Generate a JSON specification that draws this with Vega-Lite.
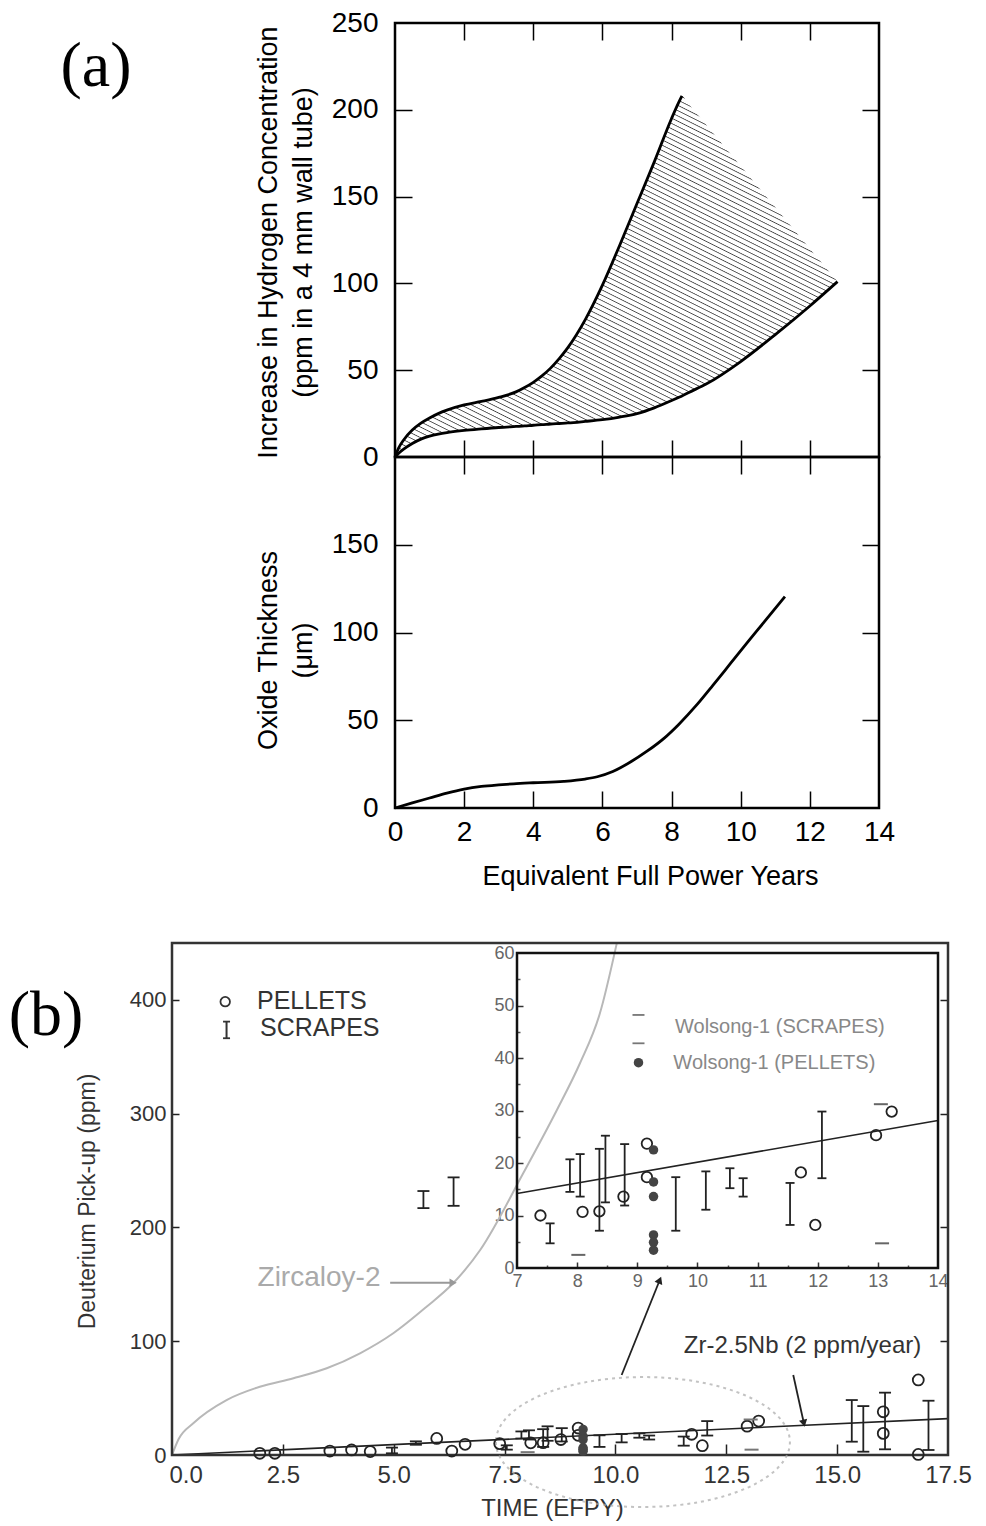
{
"$schema":"https://vega.github.io/schema/vega-lite/v6.json",
"width":986,"height":1526,"autosize":"none","padding":0,"background":"white",
"config":{"view":{"stroke":null},"font":"Liberation Sans","axis":{"grid":false,"domain":false,"labelFlush":false,"labelOverlap":false,"labelFont":"Liberation Sans","titleFont":"Liberation Sans","titleFontWeight":"normal","labelColor":"#000","titleColor":"#000","tickColor":"#000"}},
"datasets":{
"band":[{"x":0,"hi":0,"lo":0},{"x":0.1,"hi":5,"lo":2},{"x":0.25,"hi":9.8,"lo":4.5},{"x":0.5,"hi":15.5,"lo":7.8},{"x":0.75,"hi":19.5,"lo":10.3},{"x":1,"hi":22.5,"lo":12},{"x":1.25,"hi":25,"lo":13.2},{"x":1.5,"hi":27,"lo":14.1},{"x":2,"hi":30,"lo":15.3},{"x":2.5,"hi":32,"lo":16.2},{"x":3,"hi":34.3,"lo":17},{"x":3.5,"hi":37.5,"lo":17.6},{"x":3.75,"hi":40,"lo":17.9},{"x":4,"hi":43,"lo":18.3},{"x":4.25,"hi":46.7,"lo":18.6},{"x":4.5,"hi":51.2,"lo":19},{"x":4.75,"hi":56.7,"lo":19.3},{"x":5,"hi":63,"lo":19.6},{"x":5.5,"hi":79,"lo":20.5},{"x":6,"hi":99,"lo":21.5},{"x":6.5,"hi":122,"lo":23},{"x":7,"hi":146,"lo":25},{"x":7.5,"hi":170,"lo":28.3},{"x":8,"hi":195,"lo":32.5},{"x":8.2,"hi":204,"lo":34.3},{"x":8.3,"hi":208,"lo":35.2},{"x":8.5,"hi":203.2,"lo":37.2},{"x":9,"hi":191.4,"lo":42},{"x":10,"hi":167.6,"lo":55},{"x":11,"hi":143.8,"lo":70.5},{"x":12,"hi":120,"lo":87},{"x":12.8,"hi":101,"lo":101}],
"tA":[{"x":-8.65,"y":224.7,"t":"(a)"}],
"oxide":[{"x":0,"y":0},{"x":0.5,"y":2.9},{"x":1,"y":5.7},{"x":1.5,"y":8.5},{"x":2,"y":10.8},{"x":2.5,"y":12.3},{"x":3,"y":13.2},{"x":3.43,"y":13.8},{"x":4,"y":14.4},{"x":4.88,"y":15.2},{"x":5.5,"y":16.5},{"x":5.85,"y":17.8},{"x":6.3,"y":20.8},{"x":6.81,"y":26.2},{"x":7.3,"y":32.5},{"x":7.78,"y":39.7},{"x":8.2,"y":47.5},{"x":8.74,"y":59},{"x":9.2,"y":70},{"x":9.71,"y":82.5},{"x":10.2,"y":94.5},{"x":10.68,"y":106},{"x":11.28,"y":120.5}],
"zirc":[{"x":0,"y":0},{"x":0.15,"y":14},{"x":0.48,"y":27.9},{"x":1.23,"y":48.3},{"x":1.98,"y":60},{"x":2.74,"y":67.4},{"x":3.49,"y":76.2},{"x":4.24,"y":89.4},{"x":4.99,"y":107},{"x":5.74,"y":130.3},{"x":6.34,"y":150.9},{"x":6.95,"y":180.2},{"x":7.92,"y":247.6},{"x":8.68,"y":303.2},{"x":9.2,"y":344.3},{"x":9.65,"y":388.2},{"x":10.03,"y":449.7}],
"nb":[{"x":0,"y":0},{"x":17.5,"y":32}],
"inl":[{"x":7,"y":14.2},{"x":14,"y":28.1}],
"pel":[{"x":1.98,"y":1.5},{"x":2.32,"y":1.5},{"x":3.56,"y":3.5},{"x":4.05,"y":4.4},{"x":4.47,"y":3},{"x":5.97,"y":14.6},{"x":6.31,"y":3.5},{"x":6.61,"y":9.4},{"x":7.39,"y":10},{"x":8.09,"y":10.7},{"x":8.37,"y":10.8},{"x":8.77,"y":13.6},{"x":9.16,"y":23.7},{"x":9.16,"y":17.3},{"x":11.72,"y":18.2},{"x":11.96,"y":8.2},{"x":12.97,"y":25.3},{"x":13.23,"y":29.8},{"x":16.04,"y":38},{"x":16.04,"y":19},{"x":16.83,"y":66},{"x":16.83,"y":0.5}],
"scr":[{"x":4.96,"lo":1.5,"hi":6.5},{"x":5.5,"lo":9,"hi":12},{"x":5.67,"lo":217,"hi":232},{"x":6.35,"lo":219,"hi":244},{"x":7.55,"lo":4.7,"hi":8.5},{"x":7.88,"lo":14.5,"hi":20.7},{"x":8.05,"lo":13.6,"hi":21.7},{"x":8.37,"lo":7.1,"hi":22.7},{"x":8.47,"lo":12.5,"hi":25.2},{"x":8.79,"lo":11.9,"hi":23.6},{"x":9.64,"lo":7.1,"hi":17.3},{"x":10.14,"lo":11.1,"hi":18.4},{"x":10.54,"lo":15.2,"hi":19},{"x":10.76,"lo":13.6,"hi":17.1},{"x":11.54,"lo":8.2,"hi":16.2},{"x":12.07,"lo":17.1,"hi":29.8},{"x":15.33,"lo":11.7,"hi":48.3},{"x":15.59,"lo":2.9,"hi":43},{"x":16.08,"lo":5,"hi":54.8},{"x":17.06,"lo":4.4,"hi":47.7}],
"wpel":[{"x":9.27,"y":22.5},{"x":9.27,"y":16.4},{"x":9.27,"y":13.6},{"x":9.27,"y":6.3},{"x":9.27,"y":4.9},{"x":9.27,"y":3.4}],
"wscr":[{"x":8.02,"y":2.5},{"x":13.05,"y":31.2},{"x":13.07,"y":4.7}],
"ell":[{"x":10.62,"y":11.4}],
"arrD":[{"x":10.14,"y":70.3,"x2":11.0,"y2":153.8},{"x":14.01,"y":70.3,"x2":14.25,"y2":27.9}],
"arrG":[{"x":4.92,"y":151.4,"x2":6.34,"y2":151.4}],
"headA":[{"x":11.0,"y":153.8}],
"headB":[{"x":14.25,"y":27.9}],
"headC":[{"x":6.34,"y":151.4}],
"tB":[{"x":-2.84,"y":385.8,"t":"(b)"}],
"tZ":[{"x":3.315,"y":155.6,"t":"Zircaloy-2"}],
"tN":[{"x":14.22,"y":95.8,"t":"Zr-2.5Nb (2 ppm/year)"}],
"tL":[{"x":1.917,"y":399,"t":"PELLETS"},{"x":1.985,"y":375.3,"t":"SCRAPES"}],
"lP":[{"x":1.2,"y":398.4}],
"lS":[{"x":1.23,"lo":366.3,"hi":380.9}],
"iL":[{"x":9.627,"y":46,"t":"Wolsong-1 (SCRAPES)"},{"x":9.6,"y":39,"t":"Wolsong-1 (PELLETS)"}],
"iD":[{"x":9.02,"y":48.2},{"x":9.02,"y":42.8}],
"iP":[{"x":9.02,"y":39.1}]
},
"layer":[
{
"layer":[
{"data":{"name":"band"},
"mark":{"type":"area","interpolate":"monotone","fill":{"gradient":"linear","x1":0.6484,"y1":0,"x2":-0.0053,"y2":1.0669,"stops":[
{"offset":0,"color":"#fff"},{"offset":0.0015,"color":"#444"},{"offset":0.0035,"color":"#fff"},
{"offset":0.01,"color":"#fff"},{"offset":0.0115,"color":"#444"},{"offset":0.0135,"color":"#fff"},
{"offset":0.02,"color":"#fff"},{"offset":0.0215,"color":"#444"},{"offset":0.0235,"color":"#fff"},
{"offset":0.03,"color":"#fff"},{"offset":0.0315,"color":"#444"},{"offset":0.0335,"color":"#fff"},
{"offset":0.04,"color":"#fff"},{"offset":0.0415,"color":"#444"},{"offset":0.0435,"color":"#fff"},
{"offset":0.05,"color":"#fff"},{"offset":0.0515,"color":"#444"},{"offset":0.0535,"color":"#fff"},
{"offset":0.06,"color":"#fff"},{"offset":0.0615,"color":"#444"},{"offset":0.0635,"color":"#fff"},
{"offset":0.07,"color":"#fff"},{"offset":0.0715,"color":"#444"},{"offset":0.0735,"color":"#fff"},
{"offset":0.08,"color":"#fff"},{"offset":0.0815,"color":"#444"},{"offset":0.0835,"color":"#fff"},
{"offset":0.09,"color":"#fff"},{"offset":0.0915,"color":"#444"},{"offset":0.0935,"color":"#fff"},
{"offset":0.10,"color":"#fff"},{"offset":0.1015,"color":"#444"},{"offset":0.1035,"color":"#fff"},
{"offset":0.11,"color":"#fff"},{"offset":0.1115,"color":"#444"},{"offset":0.1135,"color":"#fff"},
{"offset":0.12,"color":"#fff"},{"offset":0.1215,"color":"#444"},{"offset":0.1235,"color":"#fff"},
{"offset":0.13,"color":"#fff"},{"offset":0.1315,"color":"#444"},{"offset":0.1335,"color":"#fff"},
{"offset":0.14,"color":"#fff"},{"offset":0.1415,"color":"#444"},{"offset":0.1435,"color":"#fff"},
{"offset":0.15,"color":"#fff"},{"offset":0.1515,"color":"#444"},{"offset":0.1535,"color":"#fff"},
{"offset":0.16,"color":"#fff"},{"offset":0.1615,"color":"#444"},{"offset":0.1635,"color":"#fff"},
{"offset":0.17,"color":"#fff"},{"offset":0.1715,"color":"#444"},{"offset":0.1735,"color":"#fff"},
{"offset":0.18,"color":"#fff"},{"offset":0.1815,"color":"#444"},{"offset":0.1835,"color":"#fff"},
{"offset":0.19,"color":"#fff"},{"offset":0.1915,"color":"#444"},{"offset":0.1935,"color":"#fff"},
{"offset":0.20,"color":"#fff"},{"offset":0.2015,"color":"#444"},{"offset":0.2035,"color":"#fff"},
{"offset":0.21,"color":"#fff"},{"offset":0.2115,"color":"#444"},{"offset":0.2135,"color":"#fff"},
{"offset":0.22,"color":"#fff"},{"offset":0.2215,"color":"#444"},{"offset":0.2235,"color":"#fff"},
{"offset":0.23,"color":"#fff"},{"offset":0.2315,"color":"#444"},{"offset":0.2335,"color":"#fff"},
{"offset":0.24,"color":"#fff"},{"offset":0.2415,"color":"#444"},{"offset":0.2435,"color":"#fff"},
{"offset":0.25,"color":"#fff"},{"offset":0.2515,"color":"#444"},{"offset":0.2535,"color":"#fff"},
{"offset":0.26,"color":"#fff"},{"offset":0.2615,"color":"#444"},{"offset":0.2635,"color":"#fff"},
{"offset":0.27,"color":"#fff"},{"offset":0.2715,"color":"#444"},{"offset":0.2735,"color":"#fff"},
{"offset":0.28,"color":"#fff"},{"offset":0.2815,"color":"#444"},{"offset":0.2835,"color":"#fff"},
{"offset":0.29,"color":"#fff"},{"offset":0.2915,"color":"#444"},{"offset":0.2935,"color":"#fff"},
{"offset":0.30,"color":"#fff"},{"offset":0.3015,"color":"#444"},{"offset":0.3035,"color":"#fff"},
{"offset":0.31,"color":"#fff"},{"offset":0.3115,"color":"#444"},{"offset":0.3135,"color":"#fff"},
{"offset":0.32,"color":"#fff"},{"offset":0.3215,"color":"#444"},{"offset":0.3235,"color":"#fff"},
{"offset":0.33,"color":"#fff"},{"offset":0.3315,"color":"#444"},{"offset":0.3335,"color":"#fff"},
{"offset":0.34,"color":"#fff"},{"offset":0.3415,"color":"#444"},{"offset":0.3435,"color":"#fff"},
{"offset":0.35,"color":"#fff"},{"offset":0.3515,"color":"#444"},{"offset":0.3535,"color":"#fff"},
{"offset":0.36,"color":"#fff"},{"offset":0.3615,"color":"#444"},{"offset":0.3635,"color":"#fff"},
{"offset":0.37,"color":"#fff"},{"offset":0.3715,"color":"#444"},{"offset":0.3735,"color":"#fff"},
{"offset":0.38,"color":"#fff"},{"offset":0.3815,"color":"#444"},{"offset":0.3835,"color":"#fff"},
{"offset":0.39,"color":"#fff"},{"offset":0.3915,"color":"#444"},{"offset":0.3935,"color":"#fff"},
{"offset":0.40,"color":"#fff"},{"offset":0.4015,"color":"#444"},{"offset":0.4035,"color":"#fff"},
{"offset":0.41,"color":"#fff"},{"offset":0.4115,"color":"#444"},{"offset":0.4135,"color":"#fff"},
{"offset":0.42,"color":"#fff"},{"offset":0.4215,"color":"#444"},{"offset":0.4235,"color":"#fff"},
{"offset":0.43,"color":"#fff"},{"offset":0.4315,"color":"#444"},{"offset":0.4335,"color":"#fff"},
{"offset":0.44,"color":"#fff"},{"offset":0.4415,"color":"#444"},{"offset":0.4435,"color":"#fff"},
{"offset":0.45,"color":"#fff"},{"offset":0.4515,"color":"#444"},{"offset":0.4535,"color":"#fff"},
{"offset":0.46,"color":"#fff"},{"offset":0.4615,"color":"#444"},{"offset":0.4635,"color":"#fff"},
{"offset":0.47,"color":"#fff"},{"offset":0.4715,"color":"#444"},{"offset":0.4735,"color":"#fff"},
{"offset":0.48,"color":"#fff"},{"offset":0.4815,"color":"#444"},{"offset":0.4835,"color":"#fff"},
{"offset":0.49,"color":"#fff"},{"offset":0.4915,"color":"#444"},{"offset":0.4935,"color":"#fff"},
{"offset":0.50,"color":"#fff"},{"offset":0.5015,"color":"#444"},{"offset":0.5035,"color":"#fff"},
{"offset":0.51,"color":"#fff"},{"offset":0.5115,"color":"#444"},{"offset":0.5135,"color":"#fff"},
{"offset":0.52,"color":"#fff"},{"offset":0.5215,"color":"#444"},{"offset":0.5235,"color":"#fff"},
{"offset":0.53,"color":"#fff"},{"offset":0.5315,"color":"#444"},{"offset":0.5335,"color":"#fff"},
{"offset":0.54,"color":"#fff"},{"offset":0.5415,"color":"#444"},{"offset":0.5435,"color":"#fff"},
{"offset":0.55,"color":"#fff"},{"offset":0.5515,"color":"#444"},{"offset":0.5535,"color":"#fff"},
{"offset":0.56,"color":"#fff"},{"offset":0.5615,"color":"#444"},{"offset":0.5635,"color":"#fff"},
{"offset":0.57,"color":"#fff"},{"offset":0.5715,"color":"#444"},{"offset":0.5735,"color":"#fff"},
{"offset":0.58,"color":"#fff"},{"offset":0.5815,"color":"#444"},{"offset":0.5835,"color":"#fff"},
{"offset":0.59,"color":"#fff"},{"offset":0.5915,"color":"#444"},{"offset":0.5935,"color":"#fff"},
{"offset":0.60,"color":"#fff"},{"offset":0.6015,"color":"#444"},{"offset":0.6035,"color":"#fff"},
{"offset":0.61,"color":"#fff"},{"offset":0.6115,"color":"#444"},{"offset":0.6135,"color":"#fff"},
{"offset":0.62,"color":"#fff"},{"offset":0.6215,"color":"#444"},{"offset":0.6235,"color":"#fff"},
{"offset":0.63,"color":"#fff"},{"offset":0.6315,"color":"#444"},{"offset":0.6335,"color":"#fff"},
{"offset":0.64,"color":"#fff"},{"offset":0.6415,"color":"#444"},{"offset":0.6435,"color":"#fff"},
{"offset":0.65,"color":"#fff"},{"offset":0.6515,"color":"#444"},{"offset":0.6535,"color":"#fff"},
{"offset":0.66,"color":"#fff"},{"offset":0.6615,"color":"#444"},{"offset":0.6635,"color":"#fff"},
{"offset":0.67,"color":"#fff"},{"offset":0.6715,"color":"#444"},{"offset":0.6735,"color":"#fff"},
{"offset":0.68,"color":"#fff"},{"offset":0.6815,"color":"#444"},{"offset":0.6835,"color":"#fff"},
{"offset":0.69,"color":"#fff"},{"offset":0.6915,"color":"#444"},{"offset":0.6935,"color":"#fff"},
{"offset":0.70,"color":"#fff"},{"offset":0.7015,"color":"#444"},{"offset":0.7035,"color":"#fff"},
{"offset":0.71,"color":"#fff"},{"offset":0.7115,"color":"#444"},{"offset":0.7135,"color":"#fff"},
{"offset":0.72,"color":"#fff"},{"offset":0.7215,"color":"#444"},{"offset":0.7235,"color":"#fff"},
{"offset":0.73,"color":"#fff"},{"offset":0.7315,"color":"#444"},{"offset":0.7335,"color":"#fff"},
{"offset":0.74,"color":"#fff"},{"offset":0.7415,"color":"#444"},{"offset":0.7435,"color":"#fff"},
{"offset":0.75,"color":"#fff"},{"offset":0.7515,"color":"#444"},{"offset":0.7535,"color":"#fff"},
{"offset":0.76,"color":"#fff"},{"offset":0.7615,"color":"#444"},{"offset":0.7635,"color":"#fff"},
{"offset":0.77,"color":"#fff"},{"offset":0.7715,"color":"#444"},{"offset":0.7735,"color":"#fff"},
{"offset":0.78,"color":"#fff"},{"offset":0.7815,"color":"#444"},{"offset":0.7835,"color":"#fff"},
{"offset":0.79,"color":"#fff"},{"offset":0.7915,"color":"#444"},{"offset":0.7935,"color":"#fff"},
{"offset":0.80,"color":"#fff"},{"offset":0.8015,"color":"#444"},{"offset":0.8035,"color":"#fff"},
{"offset":0.81,"color":"#fff"},{"offset":0.8115,"color":"#444"},{"offset":0.8135,"color":"#fff"},
{"offset":0.82,"color":"#fff"},{"offset":0.8215,"color":"#444"},{"offset":0.8235,"color":"#fff"},
{"offset":0.83,"color":"#fff"},{"offset":0.8315,"color":"#444"},{"offset":0.8335,"color":"#fff"},
{"offset":0.84,"color":"#fff"},{"offset":0.8415,"color":"#444"},{"offset":0.8435,"color":"#fff"},
{"offset":0.85,"color":"#fff"},{"offset":0.8515,"color":"#444"},{"offset":0.8535,"color":"#fff"},
{"offset":0.86,"color":"#fff"},{"offset":0.8615,"color":"#444"},{"offset":0.8635,"color":"#fff"},
{"offset":0.87,"color":"#fff"},{"offset":0.8715,"color":"#444"},{"offset":0.8735,"color":"#fff"},
{"offset":0.88,"color":"#fff"},{"offset":0.8815,"color":"#444"},{"offset":0.8835,"color":"#fff"},
{"offset":0.89,"color":"#fff"},{"offset":0.8915,"color":"#444"},{"offset":0.8935,"color":"#fff"},
{"offset":0.90,"color":"#fff"},{"offset":0.9015,"color":"#444"},{"offset":0.9035,"color":"#fff"},
{"offset":0.91,"color":"#fff"},{"offset":0.9115,"color":"#444"},{"offset":0.9135,"color":"#fff"},
{"offset":0.92,"color":"#fff"},{"offset":0.9215,"color":"#444"},{"offset":0.9235,"color":"#fff"},
{"offset":0.93,"color":"#fff"},{"offset":0.9315,"color":"#444"},{"offset":0.9335,"color":"#fff"},
{"offset":0.94,"color":"#fff"},{"offset":0.9415,"color":"#444"},{"offset":0.9435,"color":"#fff"},
{"offset":0.95,"color":"#fff"},{"offset":0.9515,"color":"#444"},{"offset":0.9535,"color":"#fff"},
{"offset":0.96,"color":"#fff"},{"offset":0.9615,"color":"#444"},{"offset":0.9635,"color":"#fff"},
{"offset":0.97,"color":"#fff"},{"offset":0.9715,"color":"#444"},{"offset":0.9735,"color":"#fff"},
{"offset":0.98,"color":"#fff"},{"offset":0.9815,"color":"#444"},{"offset":0.9835,"color":"#fff"},
{"offset":0.99,"color":"#fff"},{"offset":0.9915,"color":"#444"},{"offset":0.9935,"color":"#fff"}
]}},
"encoding":{
"x":{"field":"x","type":"quantitative","scale":{"domain":[0,14],"range":[395,879],"nice":false,"zero":false},"axis":{"orient":"bottom","offset":-1069,"labels":false,"tickSize":-17,"tickWidth":1.5,"values":[2,4,6,8,10,12],"title":null}},
"y":{"field":"hi","type":"quantitative","scale":{"domain":[0,250],"range":[457,23],"nice":false,"zero":false},"axis":{"orient":"left","offset":-395,"ticks":false,"labelPadding":17,"labelFontSize":28,"values":[0,50,100,150,200,250],"title":["Increase in Hydrogen Concentration","(ppm in a 4 mm wall tube)"],"titleFontSize":27,"titleLineHeight":35,"titleX":-127,"titleY":242,"titleBaseline":"middle"}},
"y2":{"field":"lo"}}},
{"data":{"name":"band"},"transform":[{"filter":"datum.x <= 8.3"}],
"mark":{"type":"line","interpolate":"monotone","color":"#000","strokeWidth":2.8},
"encoding":{
"x":{"field":"x","type":"quantitative","scale":{"domain":[0,14],"range":[395,879],"nice":false,"zero":false},"axis":{"orient":"top","offset":-23,"labels":false,"tickSize":-17,"tickWidth":1.5,"values":[2,4,6,8,10,12],"title":null}},
"y":{"field":"hi","type":"quantitative","scale":{"domain":[0,250],"range":[457,23],"nice":false,"zero":false},"axis":{"orient":"left","offset":-395,"labels":false,"tickSize":-17,"tickWidth":1.5,"values":[50,100,150,200],"title":null}}}},
{"data":{"name":"band"},
"mark":{"type":"line","interpolate":"monotone","color":"#000","strokeWidth":2.8},
"encoding":{
"x":{"field":"x","type":"quantitative","scale":{"domain":[0,14],"range":[395,879],"nice":false,"zero":false},"axis":null},
"y":{"field":"lo","type":"quantitative","scale":{"domain":[0,250],"range":[457,23],"nice":false,"zero":false},"axis":{"orient":"right","offset":-107,"labels":false,"tickSize":-17,"tickWidth":1.5,"values":[50,100,150,200],"title":null}}}},
{"data":{"values":[{}]},
"mark":{"type":"rect","fill":"transparent","stroke":"#000","strokeWidth":2.5},
"encoding":{
"x":{"datum":0,"type":"quantitative","scale":{"domain":[0,14],"range":[395,879],"nice":false,"zero":false},"axis":null},
"x2":{"datum":14},
"y":{"datum":0,"type":"quantitative","scale":{"domain":[0,250],"range":[457,23],"nice":false,"zero":false},"axis":null},
"y2":{"datum":250}}},
{"data":{"name":"tA"},
"mark":{"type":"text","font":"Liberation Serif","fontSize":64,"align":"center","baseline":"middle","color":"#000"},
"encoding":{
"x":{"field":"x","type":"quantitative","scale":{"domain":[0,14],"range":[395,879],"nice":false,"zero":false},"axis":null},
"y":{"field":"y","type":"quantitative","scale":{"domain":[0,250],"range":[457,23],"nice":false,"zero":false},"axis":null},
"text":{"field":"t"}}}
],
"resolve":{"axis":{"x":"independent","y":"independent"}}
},
{
"layer":[
{"data":{"name":"oxide"},
"mark":{"type":"line","interpolate":"monotone","color":"#000","strokeWidth":2.8},
"encoding":{
"x":{"field":"x","type":"quantitative","scale":{"domain":[0,14],"range":[395,879],"nice":false,"zero":false},"axis":{"orient":"bottom","offset":-718,"ticks":false,"labelPadding":10,"labelFontSize":28,"values":[0,2,4,6,8,10,12,14],"title":"Equivalent Full Power Years","titleFontSize":27,"titleX":650,"titleY":68,"titleBaseline":"middle"}},
"y":{"field":"y","type":"quantitative","scale":{"domain":[0,200],"range":[808,457],"nice":false,"zero":false},"axis":{"orient":"left","offset":-395,"ticks":false,"labelPadding":17,"labelFontSize":28,"values":[0,50,100,150],"title":["Oxide Thickness","(μm)"],"titleFontSize":27,"titleLineHeight":35,"titleX":-127,"titleY":650,"titleBaseline":"middle"}}}},
{"data":{"values":[{}]},
"mark":{"type":"rect","fill":"transparent","stroke":"#000","strokeWidth":2.5},
"encoding":{
"x":{"datum":0,"type":"quantitative","scale":{"domain":[0,14],"range":[395,879],"nice":false,"zero":false},"axis":{"orient":"bottom","offset":-718,"labels":false,"tickSize":-17,"tickWidth":1.5,"values":[2,4,6,8,10,12],"title":null}},
"x2":{"datum":14},
"y":{"datum":0,"type":"quantitative","scale":{"domain":[0,200],"range":[808,457],"nice":false,"zero":false},"axis":{"orient":"left","offset":-395,"labels":false,"tickSize":-17,"tickWidth":1.5,"values":[50,100,150],"title":null}},
"y2":{"datum":200}}},
{"data":{"name":"oxide"},
"mark":{"type":"point","opacity":0},
"encoding":{
"x":{"field":"x","type":"quantitative","scale":{"domain":[0,14],"range":[395,879],"nice":false,"zero":false},"axis":{"orient":"top","offset":-457,"labels":false,"tickSize":-17,"tickWidth":1.5,"values":[2,4,6,8,10,12],"title":null}},
"y":{"field":"y","type":"quantitative","scale":{"domain":[0,200],"range":[808,457],"nice":false,"zero":false},"axis":{"orient":"right","offset":-107,"labels":false,"tickSize":-17,"tickWidth":1.5,"values":[50,100,150],"title":null}}}}
],
"resolve":{"axis":{"x":"independent","y":"independent"}}
},
{
"layer":[
{"data":{"name":"zirc"},
"mark":{"type":"line","interpolate":"monotone","color":"#b8b8b8","strokeWidth":2},
"encoding":{
"x":{"field":"x","type":"quantitative","scale":{"domain":[0,17.5],"range":[172,948],"nice":false,"zero":false},"axis":{"orient":"bottom","offset":-71,"ticks":false,"labelPadding":8,"labelFontSize":24,"labelColor":"#333","values":[2.5,5,7.5,10,12.5,15,17.5],"format":".1f","title":"TIME (EFPY)","titleFontSize":24,"titleColor":"#333","titleX":552,"titleY":53,"titleBaseline":"middle"}},
"y":{"field":"y","type":"quantitative","scale":{"domain":[0,450],"range":[1455,943],"nice":false,"zero":false},"axis":{"orient":"left","offset":-172,"ticks":false,"labelPadding":6,"labelFontSize":22,"labelColor":"#333","values":[0,100,200,300,400],"title":"Deuterium Pick-up (ppm)","titleFontSize":23,"titleColor":"#333","titleX":-84.5,"titleY":1201,"titleBaseline":"middle"}}}},
{"data":{"name":"nb"},
"mark":{"type":"line","color":"#222","strokeWidth":1.6},
"encoding":{
"x":{"field":"x","type":"quantitative","scale":{"domain":[0,17.5],"range":[172,948],"nice":false,"zero":false},"axis":{"orient":"bottom","offset":-71,"labels":false,"tickSize":-11,"tickWidth":1.5,"tickColor":"#222","values":[2.5,5,7.5,10,12.5,15],"title":null}},
"y":{"field":"y","type":"quantitative","scale":{"domain":[0,450],"range":[1455,943],"nice":false,"zero":false},"axis":{"orient":"left","offset":-172,"labels":false,"tickSize":-7,"tickWidth":1.5,"tickColor":"#222","values":[100,200,300,400],"title":null}}}},
{"data":{"values":[{}]},
"mark":{"type":"rect","fill":"transparent","stroke":"#333","strokeWidth":2.5},
"encoding":{
"x":{"datum":0,"type":"quantitative","scale":{"domain":[0,17.5],"range":[172,948],"nice":false,"zero":false},"axis":{"orient":"bottom","offset":-71,"ticks":false,"labelPadding":8,"labelFontSize":24,"labelColor":"#333","labelAlign":"left","labelOffset":-3,"values":[0],"format":".1f","title":null}},
"x2":{"datum":17.5},
"y":{"datum":0,"type":"quantitative","scale":{"domain":[0,450],"range":[1455,943],"nice":false,"zero":false},"axis":{"orient":"right","offset":-38,"labels":false,"tickSize":-8,"tickWidth":1.5,"tickColor":"#222","values":[100,200,300,400],"title":null}},
"y2":{"datum":450}}},
{"data":{"name":"ell"},
"mark":{"type":"point","shape":"M -1 0 A 1 0.442 0 1 0 1 0 A 1 0.442 0 1 0 -1 0 Z","size":86436,"filled":false,"color":"#aaa","strokeWidth":2,"strokeDash":[3,4]},
"encoding":{
"x":{"field":"x","type":"quantitative","scale":{"domain":[0,17.5],"range":[172,948],"nice":false,"zero":false},"axis":null},
"y":{"field":"y","type":"quantitative","scale":{"domain":[0,450],"range":[1455,943],"nice":false,"zero":false},"axis":null}}},
{"data":{"name":"arrD"},
"mark":{"type":"rule","color":"#222","strokeWidth":1.8},
"encoding":{
"x":{"field":"x","type":"quantitative","scale":{"domain":[0,17.5],"range":[172,948],"nice":false,"zero":false},"axis":null},
"y":{"field":"y","type":"quantitative","scale":{"domain":[0,450],"range":[1455,943],"nice":false,"zero":false},"axis":null},
"x2":{"field":"x2"},"y2":{"field":"y2"}}},
{"data":{"name":"arrG"},
"mark":{"type":"rule","color":"#999","strokeWidth":1.8},
"encoding":{
"x":{"field":"x","type":"quantitative","scale":{"domain":[0,17.5],"range":[172,948],"nice":false,"zero":false},"axis":null},
"y":{"field":"y","type":"quantitative","scale":{"domain":[0,450],"range":[1455,943],"nice":false,"zero":false},"axis":null},
"x2":{"field":"x2"},"y2":{"field":"y2"}}},
{"data":{"name":"headA"},
"mark":{"type":"point","shape":"triangle-up","angle":22,"size":70,"filled":true,"color":"#222","opacity":1},
"encoding":{
"x":{"field":"x","type":"quantitative","scale":{"domain":[0,17.5],"range":[172,948],"nice":false,"zero":false},"axis":null},
"y":{"field":"y","type":"quantitative","scale":{"domain":[0,450],"range":[1455,943],"nice":false,"zero":false},"axis":null}}},
{"data":{"name":"headB"},
"mark":{"type":"point","shape":"triangle-down","angle":-13,"size":70,"filled":true,"color":"#222","opacity":1},
"encoding":{
"x":{"field":"x","type":"quantitative","scale":{"domain":[0,17.5],"range":[172,948],"nice":false,"zero":false},"axis":null},
"y":{"field":"y","type":"quantitative","scale":{"domain":[0,450],"range":[1455,943],"nice":false,"zero":false},"axis":null}}},
{"data":{"name":"headC"},
"mark":{"type":"point","shape":"triangle-right","size":70,"filled":true,"color":"#999","opacity":1},
"encoding":{
"x":{"field":"x","type":"quantitative","scale":{"domain":[0,17.5],"range":[172,948],"nice":false,"zero":false},"axis":null},
"y":{"field":"y","type":"quantitative","scale":{"domain":[0,450],"range":[1455,943],"nice":false,"zero":false},"axis":null}}},
{"data":{"name":"scr"},
"mark":{"type":"rule","color":"#222","strokeWidth":1.8},
"encoding":{
"x":{"field":"x","type":"quantitative","scale":{"domain":[0,17.5],"range":[172,948],"nice":false,"zero":false},"axis":null},
"y":{"field":"lo","type":"quantitative","scale":{"domain":[0,450],"range":[1455,943],"nice":false,"zero":false},"axis":null},
"y2":{"field":"hi"}}},
{"data":{"name":"scr"},
"mark":{"type":"tick","orient":"horizontal","size":12,"thickness":1.8,"color":"#222","opacity":1},
"encoding":{
"x":{"field":"x","type":"quantitative","scale":{"domain":[0,17.5],"range":[172,948],"nice":false,"zero":false},"axis":null},
"y":{"field":"lo","type":"quantitative","scale":{"domain":[0,450],"range":[1455,943],"nice":false,"zero":false},"axis":null}}},
{"data":{"name":"scr"},
"mark":{"type":"tick","orient":"horizontal","size":12,"thickness":1.8,"color":"#222","opacity":1},
"encoding":{
"x":{"field":"x","type":"quantitative","scale":{"domain":[0,17.5],"range":[172,948],"nice":false,"zero":false},"axis":null},
"y":{"field":"hi","type":"quantitative","scale":{"domain":[0,450],"range":[1455,943],"nice":false,"zero":false},"axis":null}}},
{"data":{"name":"pel"},
"mark":{"type":"point","shape":"circle","size":120,"filled":false,"color":"#222","strokeWidth":1.8,"opacity":1},
"encoding":{
"x":{"field":"x","type":"quantitative","scale":{"domain":[0,17.5],"range":[172,948],"nice":false,"zero":false},"axis":null},
"y":{"field":"y","type":"quantitative","scale":{"domain":[0,450],"range":[1455,943],"nice":false,"zero":false},"axis":null}}},
{"data":{"name":"wpel"},
"mark":{"type":"point","shape":"circle","size":90,"filled":true,"color":"#444","opacity":1},
"encoding":{
"x":{"field":"x","type":"quantitative","scale":{"domain":[0,17.5],"range":[172,948],"nice":false,"zero":false},"axis":null},
"y":{"field":"y","type":"quantitative","scale":{"domain":[0,450],"range":[1455,943],"nice":false,"zero":false},"axis":null}}},
{"data":{"name":"wscr"},
"mark":{"type":"tick","orient":"horizontal","size":14,"thickness":2,"color":"#777","opacity":1},
"encoding":{
"x":{"field":"x","type":"quantitative","scale":{"domain":[0,17.5],"range":[172,948],"nice":false,"zero":false},"axis":null},
"y":{"field":"y","type":"quantitative","scale":{"domain":[0,450],"range":[1455,943],"nice":false,"zero":false},"axis":null}}},
{"data":{"name":"tZ"},
"mark":{"type":"text","fontSize":28,"align":"center","baseline":"middle","color":"#aaa"},
"encoding":{
"x":{"field":"x","type":"quantitative","scale":{"domain":[0,17.5],"range":[172,948],"nice":false,"zero":false},"axis":null},
"y":{"field":"y","type":"quantitative","scale":{"domain":[0,450],"range":[1455,943],"nice":false,"zero":false},"axis":null},
"text":{"field":"t"}}},
{"data":{"name":"tN"},
"mark":{"type":"text","fontSize":24,"align":"center","baseline":"middle","color":"#333"},
"encoding":{
"x":{"field":"x","type":"quantitative","scale":{"domain":[0,17.5],"range":[172,948],"nice":false,"zero":false},"axis":null},
"y":{"field":"y","type":"quantitative","scale":{"domain":[0,450],"range":[1455,943],"nice":false,"zero":false},"axis":null},
"text":{"field":"t"}}},
{"data":{"name":"tL"},
"mark":{"type":"text","fontSize":25,"align":"left","baseline":"middle","color":"#333"},
"encoding":{
"x":{"field":"x","type":"quantitative","scale":{"domain":[0,17.5],"range":[172,948],"nice":false,"zero":false},"axis":null},
"y":{"field":"y","type":"quantitative","scale":{"domain":[0,450],"range":[1455,943],"nice":false,"zero":false},"axis":null},
"text":{"field":"t"}}},
{"data":{"name":"tB"},
"mark":{"type":"text","font":"Liberation Serif","fontSize":64,"align":"center","baseline":"middle","color":"#000"},
"encoding":{
"x":{"field":"x","type":"quantitative","scale":{"domain":[0,17.5],"range":[172,948],"nice":false,"zero":false},"axis":null},
"y":{"field":"y","type":"quantitative","scale":{"domain":[0,450],"range":[1455,943],"nice":false,"zero":false},"axis":null},
"text":{"field":"t"}}},
{"data":{"name":"lP"},
"mark":{"type":"point","shape":"circle","size":90,"filled":false,"color":"#333","strokeWidth":1.8,"opacity":1},
"encoding":{
"x":{"field":"x","type":"quantitative","scale":{"domain":[0,17.5],"range":[172,948],"nice":false,"zero":false},"axis":null},
"y":{"field":"y","type":"quantitative","scale":{"domain":[0,450],"range":[1455,943],"nice":false,"zero":false},"axis":null}}},
{"data":{"name":"lS"},
"mark":{"type":"rule","color":"#333","strokeWidth":2},
"encoding":{
"x":{"field":"x","type":"quantitative","scale":{"domain":[0,17.5],"range":[172,948],"nice":false,"zero":false},"axis":null},
"y":{"field":"lo","type":"quantitative","scale":{"domain":[0,450],"range":[1455,943],"nice":false,"zero":false},"axis":null},
"y2":{"field":"hi"}}},
{"data":{"name":"lS"},
"mark":{"type":"tick","orient":"horizontal","size":7,"thickness":1.8,"color":"#333","opacity":1},
"encoding":{
"x":{"field":"x","type":"quantitative","scale":{"domain":[0,17.5],"range":[172,948],"nice":false,"zero":false},"axis":null},
"y":{"field":"lo","type":"quantitative","scale":{"domain":[0,450],"range":[1455,943],"nice":false,"zero":false},"axis":null}}},
{"data":{"name":"lS"},
"mark":{"type":"tick","orient":"horizontal","size":7,"thickness":1.8,"color":"#333","opacity":1},
"encoding":{
"x":{"field":"x","type":"quantitative","scale":{"domain":[0,17.5],"range":[172,948],"nice":false,"zero":false},"axis":null},
"y":{"field":"hi","type":"quantitative","scale":{"domain":[0,450],"range":[1455,943],"nice":false,"zero":false},"axis":null}}}
],
"resolve":{"axis":{"x":"independent","y":"independent"}}
},
{
"layer":[
{"data":{"name":"inl"},
"mark":{"type":"line","color":"#222","strokeWidth":1.6},
"encoding":{
"x":{"field":"x","type":"quantitative","scale":{"domain":[7,14],"range":[517,938],"nice":false,"zero":false},"axis":{"orient":"bottom","offset":-258,"ticks":false,"labelPadding":4,"labelFontSize":18,"labelColor":"#666","values":[7,8,9,10,11,12,13,14],"title":null}},
"y":{"field":"y","type":"quantitative","scale":{"domain":[0,60],"range":[1268,953],"nice":false,"zero":false},"axis":{"orient":"left","offset":-517,"ticks":false,"labelPadding":3,"labelFontSize":18,"labelColor":"#666","values":[0,10,20,30,40,50,60],"title":null}}}},
{"data":{"values":[{}]},
"mark":{"type":"rect","fill":"transparent","stroke":"#111","strokeWidth":2.5},
"encoding":{
"x":{"datum":7,"type":"quantitative","scale":{"domain":[7,14],"range":[517,938],"nice":false,"zero":false},"axis":{"orient":"bottom","offset":-258,"labels":false,"tickSize":-6,"tickWidth":1.5,"tickColor":"#333","values":[8,9,10,11,12,13],"title":null}},
"x2":{"datum":14},
"y":{"datum":0,"type":"quantitative","scale":{"domain":[0,60],"range":[1268,953],"nice":false,"zero":false},"axis":{"orient":"left","offset":-517,"labels":false,"tickSize":-6,"tickWidth":1.5,"tickColor":"#333","values":[10,20,30,40,50],"title":null}},
"y2":{"datum":60}}},
{"data":{"name":"pel"},"transform":[{"filter":"datum.x >= 7 && datum.x <= 14"}],
"mark":{"type":"point","shape":"circle","size":110,"filled":false,"color":"#222","strokeWidth":1.8,"opacity":1},
"encoding":{
"x":{"field":"x","type":"quantitative","scale":{"domain":[7,14],"range":[517,938],"nice":false,"zero":false},"axis":{"orient":"bottom","offset":-258,"labels":false,"tickSize":-3,"tickWidth":1.5,"tickColor":"#555","values":[7.5,8.5,9.5,10.5,11.5,12.5,13.5],"title":null}},
"y":{"field":"y","type":"quantitative","scale":{"domain":[0,60],"range":[1268,953],"nice":false,"zero":false},"axis":{"orient":"left","offset":-517,"labels":false,"tickSize":-3,"tickWidth":1.5,"tickColor":"#555","values":[5,15,25,35,45,55],"title":null}}}},
{"data":{"name":"scr"},"transform":[{"filter":"datum.x >= 7 && datum.x <= 14"}],
"mark":{"type":"rule","color":"#222","strokeWidth":1.8},
"encoding":{
"x":{"field":"x","type":"quantitative","scale":{"domain":[7,14],"range":[517,938],"nice":false,"zero":false},"axis":null},
"y":{"field":"lo","type":"quantitative","scale":{"domain":[0,60],"range":[1268,953],"nice":false,"zero":false},"axis":null},
"y2":{"field":"hi"}}},
{"data":{"name":"scr"},"transform":[{"filter":"datum.x >= 7 && datum.x <= 14"}],
"mark":{"type":"tick","orient":"horizontal","size":9,"thickness":1.8,"color":"#222","opacity":1},
"encoding":{
"x":{"field":"x","type":"quantitative","scale":{"domain":[7,14],"range":[517,938],"nice":false,"zero":false},"axis":null},
"y":{"field":"lo","type":"quantitative","scale":{"domain":[0,60],"range":[1268,953],"nice":false,"zero":false},"axis":null}}},
{"data":{"name":"scr"},"transform":[{"filter":"datum.x >= 7 && datum.x <= 14"}],
"mark":{"type":"tick","orient":"horizontal","size":9,"thickness":1.8,"color":"#222","opacity":1},
"encoding":{
"x":{"field":"x","type":"quantitative","scale":{"domain":[7,14],"range":[517,938],"nice":false,"zero":false},"axis":null},
"y":{"field":"hi","type":"quantitative","scale":{"domain":[0,60],"range":[1268,953],"nice":false,"zero":false},"axis":null}}},
{"data":{"name":"wpel"},
"mark":{"type":"point","shape":"circle","size":90,"filled":true,"color":"#444","opacity":1},
"encoding":{
"x":{"field":"x","type":"quantitative","scale":{"domain":[7,14],"range":[517,938],"nice":false,"zero":false},"axis":null},
"y":{"field":"y","type":"quantitative","scale":{"domain":[0,60],"range":[1268,953],"nice":false,"zero":false},"axis":null}}},
{"data":{"name":"wscr"},
"mark":{"type":"tick","orient":"horizontal","size":14,"thickness":2,"color":"#666","opacity":1},
"encoding":{
"x":{"field":"x","type":"quantitative","scale":{"domain":[7,14],"range":[517,938],"nice":false,"zero":false},"axis":null},
"y":{"field":"y","type":"quantitative","scale":{"domain":[0,60],"range":[1268,953],"nice":false,"zero":false},"axis":null}}},
{"data":{"name":"iD"},
"mark":{"type":"tick","orient":"horizontal","size":12,"thickness":1.8,"color":"#777","opacity":1},
"encoding":{
"x":{"field":"x","type":"quantitative","scale":{"domain":[7,14],"range":[517,938],"nice":false,"zero":false},"axis":null},
"y":{"field":"y","type":"quantitative","scale":{"domain":[0,60],"range":[1268,953],"nice":false,"zero":false},"axis":null}}},
{"data":{"name":"iP"},
"mark":{"type":"point","shape":"circle","size":90,"filled":true,"color":"#444","opacity":1},
"encoding":{
"x":{"field":"x","type":"quantitative","scale":{"domain":[7,14],"range":[517,938],"nice":false,"zero":false},"axis":null},
"y":{"field":"y","type":"quantitative","scale":{"domain":[0,60],"range":[1268,953],"nice":false,"zero":false},"axis":null}}},
{"data":{"name":"iL"},
"mark":{"type":"text","fontSize":20,"align":"left","baseline":"middle","color":"#888"},
"encoding":{
"x":{"field":"x","type":"quantitative","scale":{"domain":[7,14],"range":[517,938],"nice":false,"zero":false},"axis":null},
"y":{"field":"y","type":"quantitative","scale":{"domain":[0,60],"range":[1268,953],"nice":false,"zero":false},"axis":null},
"text":{"field":"t"}}}
],
"resolve":{"axis":{"x":"independent","y":"independent"}}
}
],
"resolve":{"scale":{"x":"independent","y":"independent"}}
}
